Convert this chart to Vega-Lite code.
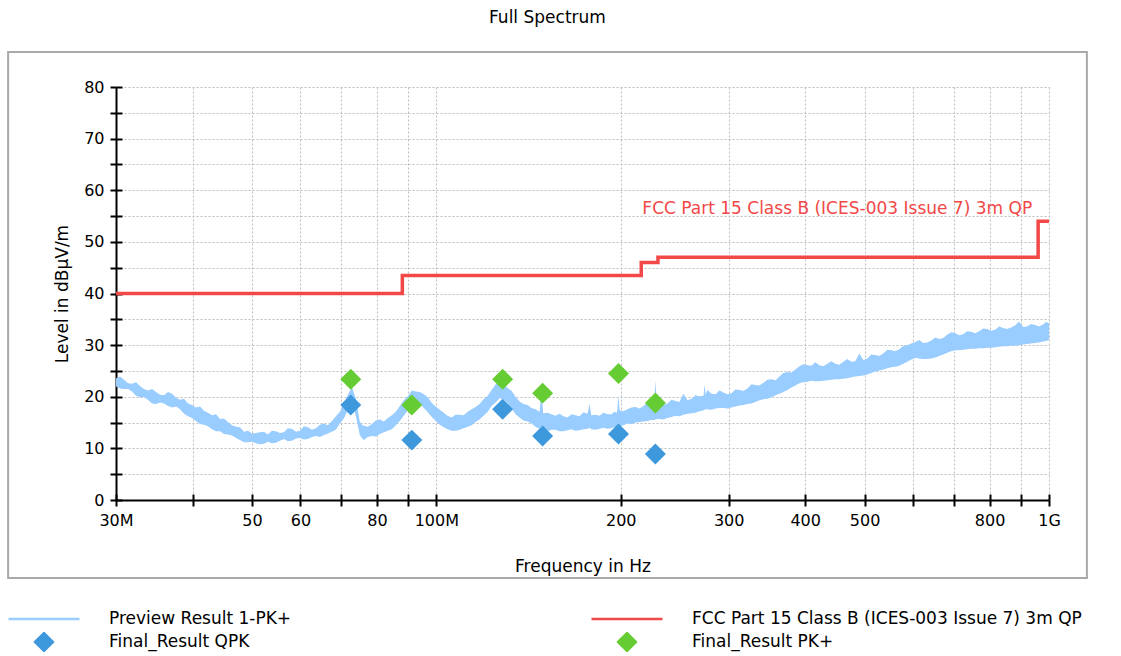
{
  "$schema": "https://vega.github.io/schema/vega-lite/v6.json",
  "width": 933,
  "height": 413,
  "autosize": {"type": "none"},
  "padding": {"left": 116, "top": 87, "right": 72, "bottom": 156},
  "background": "white",
  "title": {
    "text": "Full Spectrum",
    "anchor": "middle",
    "frame": "bounds",
    "offset": 24,
    "font": "DejaVu Sans",
    "fontSize": 17,
    "fontWeight": "normal",
    "color": "black"
  },
  "datasets": {
    "frame": [{"left": 20, "right": 1153, "top": 86.8, "bottom": -15.1}],
    "preview": [
      {"f": 30.0, "lo": 22.0, "hi": 23.6}, {"f": 30.46, "lo": 21.6, "hi": 23.9}, {"f": 30.92, "lo": 21.5, "hi": 23.3},
      {"f": 31.39, "lo": 21.5, "hi": 22.6}, {"f": 31.86, "lo": 21.0, "hi": 22.5}, {"f": 32.35, "lo": 20.2, "hi": 22.8},
      {"f": 32.84, "lo": 19.9, "hi": 22.1}, {"f": 33.33, "lo": 19.9, "hi": 21.5}, {"f": 33.83, "lo": 19.4, "hi": 21.2},
      {"f": 34.35, "lo": 18.7, "hi": 21.5}, {"f": 34.87, "lo": 18.6, "hi": 20.9}, {"f": 35.4, "lo": 18.9, "hi": 20.4},
      {"f": 35.94, "lo": 18.7, "hi": 20.3}, {"f": 36.48, "lo": 18.2, "hi": 20.9}, {"f": 37.03, "lo": 17.9, "hi": 20.6},
      {"f": 37.6, "lo": 18.1, "hi": 19.8}, {"f": 38.16, "lo": 17.6, "hi": 19.4}, {"f": 38.74, "lo": 16.7, "hi": 19.6},
      {"f": 39.33, "lo": 16.2, "hi": 18.7}, {"f": 39.92, "lo": 15.9, "hi": 18.4}, {"f": 40.52, "lo": 15.3, "hi": 17.9},
      {"f": 41.14, "lo": 14.7, "hi": 18.1}, {"f": 41.76, "lo": 14.6, "hi": 17.3}, {"f": 42.39, "lo": 14.3, "hi": 16.9},
      {"f": 43.03, "lo": 13.7, "hi": 16.4}, {"f": 43.69, "lo": 13.3, "hi": 16.6}, {"f": 44.35, "lo": 13.3, "hi": 15.7},
      {"f": 45.02, "lo": 12.8, "hi": 15.8}, {"f": 45.7, "lo": 12.7, "hi": 15.1}, {"f": 46.39, "lo": 12.5, "hi": 14.5},
      {"f": 47.09, "lo": 12.0, "hi": 14.2}, {"f": 47.8, "lo": 11.6, "hi": 14.1}, {"f": 48.53, "lo": 11.2, "hi": 13.2},
      {"f": 49.27, "lo": 11.2, "hi": 13.4}, {"f": 50.01, "lo": 11.3, "hi": 12.9}, {"f": 50.77, "lo": 11.0, "hi": 13.0},
      {"f": 51.53, "lo": 10.8, "hi": 13.1}, {"f": 52.31, "lo": 10.9, "hi": 13.2}, {"f": 53.1, "lo": 11.3, "hi": 12.7},
      {"f": 53.9, "lo": 11.0, "hi": 13.4}, {"f": 54.72, "lo": 11.1, "hi": 13.3}, {"f": 55.55, "lo": 11.5, "hi": 13.0},
      {"f": 56.39, "lo": 11.8, "hi": 13.1}, {"f": 57.24, "lo": 11.4, "hi": 13.9}, {"f": 58.11, "lo": 11.5, "hi": 13.8},
      {"f": 59.0, "lo": 11.9, "hi": 13.2}, {"f": 59.89, "lo": 12.0, "hi": 13.4}, {"f": 60.79, "lo": 11.7, "hi": 14.3},
      {"f": 61.71, "lo": 11.8, "hi": 14.1}, {"f": 62.65, "lo": 12.2, "hi": 13.6}, {"f": 63.6, "lo": 12.4, "hi": 13.9},
      {"f": 64.56, "lo": 12.2, "hi": 14.6}, {"f": 65.54, "lo": 12.6, "hi": 14.8}, {"f": 66.53, "lo": 12.9, "hi": 14.5},
      {"f": 67.53, "lo": 13.2, "hi": 15.3}, {"f": 68.55, "lo": 13.6, "hi": 16.2}, {"f": 69.59, "lo": 14.8, "hi": 17.1},
      {"f": 70.65, "lo": 15.8, "hi": 18.6}, {"f": 71.72, "lo": 17.5, "hi": 20.4}, {"f": 72.8, "lo": 19.3, "hi": 21.9},
      {"f": 73.9, "lo": 16.2, "hi": 19.6}, {"f": 75.0, "lo": 12.6, "hi": 15.2}, {"f": 75.57, "lo": 12.0, "hi": 14.6},
      {"f": 76.15, "lo": 11.6, "hi": 14.4}, {"f": 77.3, "lo": 12.2, "hi": 14.2}, {"f": 78.48, "lo": 12.4, "hi": 14.7},
      {"f": 79.67, "lo": 12.3, "hi": 15.4}, {"f": 80.87, "lo": 12.8, "hi": 15.6}, {"f": 82.1, "lo": 13.1, "hi": 15.2},
      {"f": 83.33, "lo": 13.4, "hi": 15.9}, {"f": 84.6, "lo": 13.7, "hi": 16.4}, {"f": 85.88, "lo": 14.5, "hi": 17.1},
      {"f": 87.17, "lo": 15.3, "hi": 18.2}, {"f": 88.49, "lo": 16.3, "hi": 19.3}, {"f": 89.83, "lo": 17.4, "hi": 20.1},
      {"f": 91.19, "lo": 18.4, "hi": 21.2}, {"f": 92.58, "lo": 18.9, "hi": 21.0}, {"f": 93.98, "lo": 18.7, "hi": 20.9},
      {"f": 95.4, "lo": 17.8, "hi": 20.5}, {"f": 96.84, "lo": 17.0, "hi": 19.9}, {"f": 98.3, "lo": 16.1, "hi": 18.8},
      {"f": 99.74, "lo": 15.3, "hi": 18.1}, {"f": 101.3, "lo": 14.6, "hi": 17.5}, {"f": 102.8, "lo": 14.1, "hi": 16.9},
      {"f": 104.3, "lo": 13.7, "hi": 16.3}, {"f": 105.9, "lo": 13.4, "hi": 16.0}, {"f": 107.5, "lo": 13.4, "hi": 16.5},
      {"f": 109.1, "lo": 13.6, "hi": 16.5}, {"f": 110.8, "lo": 13.9, "hi": 16.4}, {"f": 112.5, "lo": 14.2, "hi": 17.1},
      {"f": 114.2, "lo": 14.5, "hi": 17.6}, {"f": 115.9, "lo": 15.1, "hi": 18.0}, {"f": 117.6, "lo": 15.6, "hi": 18.6},
      {"f": 119.4, "lo": 16.3, "hi": 19.5}, {"f": 121.3, "lo": 17.1, "hi": 20.2}, {"f": 123.1, "lo": 18.2, "hi": 21.3},
      {"f": 125.0, "lo": 18.9, "hi": 22.4}, {"f": 126.8, "lo": 19.7, "hi": 23.0}, {"f": 128.7, "lo": 19.5, "hi": 22.5},
      {"f": 130.7, "lo": 18.8, "hi": 21.7}, {"f": 132.7, "lo": 17.7, "hi": 21.1}, {"f": 134.7, "lo": 16.6, "hi": 20.0},
      {"f": 136.7, "lo": 16.0, "hi": 19.1}, {"f": 138.8, "lo": 15.4, "hi": 18.6}, {"f": 140.9, "lo": 15.2, "hi": 18.4},
      {"f": 143.0, "lo": 14.8, "hi": 17.8}, {"f": 145.2, "lo": 14.2, "hi": 17.6}, {"f": 147.4, "lo": 13.8, "hi": 17.1},
      {"f": 148.5, "lo": 14.3, "hi": 21.2}, {"f": 149.4, "lo": 13.5, "hi": 16.8}, {"f": 151.9, "lo": 13.3, "hi": 16.9},
      {"f": 154.2, "lo": 13.6, "hi": 16.6}, {"f": 156.5, "lo": 13.6, "hi": 16.3}, {"f": 158.9, "lo": 13.3, "hi": 16.7},
      {"f": 161.3, "lo": 13.3, "hi": 16.2}, {"f": 163.7, "lo": 13.5, "hi": 16.0}, {"f": 166.2, "lo": 13.7, "hi": 16.6},
      {"f": 168.7, "lo": 13.4, "hi": 16.4}, {"f": 171.3, "lo": 13.5, "hi": 16.2}, {"f": 173.9, "lo": 13.7, "hi": 17.0},
      {"f": 176.5, "lo": 13.8, "hi": 16.7}, {"f": 177.9, "lo": 14.0, "hi": 18.6}, {"f": 179.0, "lo": 13.7, "hi": 16.4},
      {"f": 181.9, "lo": 13.6, "hi": 16.5}, {"f": 184.6, "lo": 13.8, "hi": 16.3}, {"f": 187.4, "lo": 14.0, "hi": 16.9},
      {"f": 190.3, "lo": 13.8, "hi": 16.6}, {"f": 193.2, "lo": 13.9, "hi": 16.6}, {"f": 195.2, "lo": 14.1, "hi": 17.1},
      {"f": 197.2, "lo": 14.0, "hi": 16.9}, {"f": 198.3, "lo": 14.6, "hi": 20.2}, {"f": 199.1, "lo": 14.3, "hi": 17.4},
      {"f": 202.1, "lo": 14.5, "hi": 17.2}, {"f": 205.1, "lo": 14.8, "hi": 17.6}, {"f": 208.2, "lo": 14.7, "hi": 17.9},
      {"f": 211.4, "lo": 15.0, "hi": 18.0}, {"f": 214.6, "lo": 15.1, "hi": 17.7}, {"f": 217.8, "lo": 15.2, "hi": 18.2},
      {"f": 221.1, "lo": 15.3, "hi": 18.9}, {"f": 224.5, "lo": 15.5, "hi": 18.6}, {"f": 226.7, "lo": 15.5, "hi": 18.4},
      {"f": 227.8, "lo": 15.6, "hi": 23.1}, {"f": 229.0, "lo": 15.7, "hi": 18.6}, {"f": 231.3, "lo": 15.7, "hi": 18.8},
      {"f": 234.8, "lo": 15.6, "hi": 18.4}, {"f": 238.4, "lo": 15.9, "hi": 18.7}, {"f": 242.0, "lo": 16.1, "hi": 19.4},
      {"f": 245.6, "lo": 16.3, "hi": 19.2}, {"f": 249.3, "lo": 16.2, "hi": 19.0}, {"f": 253.1, "lo": 16.5, "hi": 20.6},
      {"f": 257.0, "lo": 16.7, "hi": 19.3}, {"f": 260.9, "lo": 16.8, "hi": 19.6}, {"f": 264.8, "lo": 16.9, "hi": 20.3},
      {"f": 268.8, "lo": 17.2, "hi": 20.1}, {"f": 273.0, "lo": 17.4, "hi": 20.2}, {"f": 274.0, "lo": 17.5, "hi": 22.4},
      {"f": 275.1, "lo": 17.6, "hi": 20.4}, {"f": 277.0, "lo": 17.6, "hi": 21.3}, {"f": 281.2, "lo": 17.5, "hi": 20.6},
      {"f": 285.5, "lo": 17.7, "hi": 20.5}, {"f": 289.8, "lo": 17.8, "hi": 21.2}, {"f": 294.2, "lo": 17.8, "hi": 20.8},
      {"f": 298.7, "lo": 17.7, "hi": 20.5}, {"f": 303.2, "lo": 17.9, "hi": 20.7}, {"f": 307.8, "lo": 18.1, "hi": 21.4},
      {"f": 312.4, "lo": 18.3, "hi": 21.3}, {"f": 317.1, "lo": 18.4, "hi": 21.1}, {"f": 321.9, "lo": 18.6, "hi": 21.6},
      {"f": 326.8, "lo": 18.7, "hi": 22.4}, {"f": 331.8, "lo": 19.0, "hi": 22.3}, {"f": 336.8, "lo": 19.3, "hi": 22.2},
      {"f": 341.9, "lo": 19.5, "hi": 22.7}, {"f": 347.1, "lo": 19.6, "hi": 23.3}, {"f": 352.3, "lo": 19.9, "hi": 23.4},
      {"f": 357.7, "lo": 20.3, "hi": 23.2}, {"f": 363.1, "lo": 20.6, "hi": 23.9}, {"f": 368.6, "lo": 20.9, "hi": 24.6},
      {"f": 374.1, "lo": 21.3, "hi": 24.8}, {"f": 379.8, "lo": 21.8, "hi": 24.7}, {"f": 385.5, "lo": 22.2, "hi": 25.3},
      {"f": 391.4, "lo": 22.6, "hi": 25.9}, {"f": 397.3, "lo": 22.8, "hi": 26.3}, {"f": 403.3, "lo": 22.9, "hi": 26.1},
      {"f": 409.4, "lo": 23.1, "hi": 26.0}, {"f": 415.6, "lo": 23.0, "hi": 26.7}, {"f": 421.9, "lo": 23.0, "hi": 26.1},
      {"f": 428.3, "lo": 23.1, "hi": 25.9}, {"f": 434.7, "lo": 23.2, "hi": 26.4}, {"f": 441.3, "lo": 23.3, "hi": 26.9},
      {"f": 448.0, "lo": 23.4, "hi": 26.4}, {"f": 454.8, "lo": 23.4, "hi": 26.2}, {"f": 461.7, "lo": 23.5, "hi": 26.8},
      {"f": 468.7, "lo": 23.6, "hi": 27.3}, {"f": 475.7, "lo": 23.8, "hi": 26.8}, {"f": 482.9, "lo": 23.9, "hi": 26.9},
      {"f": 490.2, "lo": 24.0, "hi": 28.4}, {"f": 497.7, "lo": 24.1, "hi": 27.1}, {"f": 505.2, "lo": 24.3, "hi": 27.4},
      {"f": 512.9, "lo": 24.6, "hi": 28.2}, {"f": 520.6, "lo": 24.9, "hi": 28.1}, {"f": 528.5, "lo": 25.1, "hi": 27.9},
      {"f": 536.4, "lo": 25.3, "hi": 28.4}, {"f": 544.6, "lo": 25.5, "hi": 29.1}, {"f": 552.8, "lo": 25.7, "hi": 29.0},
      {"f": 561.2, "lo": 25.8, "hi": 28.8}, {"f": 569.7, "lo": 26.0, "hi": 29.2}, {"f": 578.3, "lo": 26.4, "hi": 29.9},
      {"f": 587.0, "lo": 26.8, "hi": 30.0}, {"f": 595.9, "lo": 27.2, "hi": 30.3}, {"f": 604.9, "lo": 27.5, "hi": 30.6},
      {"f": 614.1, "lo": 27.4, "hi": 31.0}, {"f": 623.4, "lo": 27.3, "hi": 30.4}, {"f": 632.8, "lo": 27.3, "hi": 30.5},
      {"f": 642.4, "lo": 27.4, "hi": 30.9}, {"f": 652.2, "lo": 27.6, "hi": 31.5}, {"f": 662.0, "lo": 27.9, "hi": 31.2},
      {"f": 672.0, "lo": 28.2, "hi": 31.4}, {"f": 682.1, "lo": 28.5, "hi": 32.0}, {"f": 692.4, "lo": 28.8, "hi": 32.5},
      {"f": 702.9, "lo": 29.0, "hi": 32.3}, {"f": 713.6, "lo": 29.0, "hi": 31.9}, {"f": 724.4, "lo": 29.1, "hi": 32.1},
      {"f": 735.4, "lo": 29.2, "hi": 32.7}, {"f": 746.5, "lo": 29.3, "hi": 32.6}, {"f": 757.8, "lo": 29.3, "hi": 32.3},
      {"f": 769.2, "lo": 29.4, "hi": 32.7}, {"f": 780.9, "lo": 29.4, "hi": 33.2}, {"f": 792.7, "lo": 29.5, "hi": 33.1},
      {"f": 804.7, "lo": 29.5, "hi": 32.8}, {"f": 816.9, "lo": 29.6, "hi": 33.0}, {"f": 829.1, "lo": 29.7, "hi": 33.6},
      {"f": 841.4, "lo": 29.8, "hi": 33.3}, {"f": 854.1, "lo": 29.8, "hi": 33.1}, {"f": 867.0, "lo": 29.9, "hi": 33.4},
      {"f": 880.1, "lo": 29.9, "hi": 33.8}, {"f": 893.5, "lo": 30.0, "hi": 34.6}, {"f": 907.0, "lo": 30.1, "hi": 33.5},
      {"f": 920.8, "lo": 30.2, "hi": 33.6}, {"f": 934.7, "lo": 30.3, "hi": 34.1}, {"f": 948.8, "lo": 30.4, "hi": 33.9},
      {"f": 963.1, "lo": 30.5, "hi": 33.6}, {"f": 977.7, "lo": 30.7, "hi": 34.0}, {"f": 988.8, "lo": 30.8, "hi": 34.5},
      {"f": 1000, "lo": 31.0, "hi": 34.3}
    ],
    "limit": [
      {"f": 30, "level": 40},
      {"f": 88, "level": 43.5},
      {"f": 216, "level": 46},
      {"f": 230, "level": 47},
      {"f": 960, "level": 54},
      {"f": 1000, "level": 54}
    ],
    "limitLabel": [
      {"f": 960, "level": 54, "label": "FCC Part 15 Class B (ICES-003 Issue 7) 3m QP"}
    ],
    "qpk": [
      {"f": 72.5, "level": 18.4}, {"f": 91.2, "level": 11.6}, {"f": 128.3, "level": 17.6},
      {"f": 149.1, "level": 12.4}, {"f": 198.3, "level": 12.8}, {"f": 227.8, "level": 8.9}
    ],
    "pk": [
      {"f": 72.5, "level": 23.4}, {"f": 91.2, "level": 18.4}, {"f": 128.3, "level": 23.4},
      {"f": 149.1, "level": 20.7}, {"f": 198.3, "level": 24.5}, {"f": 227.8, "level": 18.8}
    ]
  },
  "layer": [
    {
      "data": {"name": "frame"},
      "mark": {"type": "rect", "filled": false, "color": "#a8a8a8", "strokeWidth": 2, "clip": false},
      "encoding": {
        "x": {"field": "left", "type": "quantitative", "scale": {"type": "log", "domain": [30, 1000], "nice": false}, "axis": null},
        "x2": {"field": "right"},
        "y": {"field": "top", "type": "quantitative", "scale": {"domain": [0, 80], "nice": false}, "axis": null},
        "y2": {"field": "bottom"}
      }
    },
    {
      "data": {"name": "preview"},
      "mark": {"type": "area", "opacity": 1},
      "encoding": {
        "x": {
          "field": "f", "type": "quantitative",
          "scale": {"type": "log", "domain": [30, 1000], "nice": false},
          "axis": {
            "orient": "bottom",
            "values": [30, 40, 50, 60, 70, 80, 90, 100, 200, 300, 400, 500, 600, 700, 800, 900, 1000],
            "labelExpr": "datum.value == 30 ? '30M' : datum.value == 100 ? '100M' : datum.value == 1000 ? '1G' : indexof([50, 60, 80, 200, 300, 400, 500, 800], datum.value) >= 0 ? '' + datum.value : ''",
            "labelOverlap": false,
            "labelFlush": false,
            "labelPadding": 6,
            "tickSize": 6,
            "grid": true,
            "title": "Frequency in Hz",
            "titlePadding": 30
          }
        },
        "y": {
          "field": "lo", "type": "quantitative",
          "scale": {"domain": [0, 80], "nice": false},
          "axis": {
            "orient": "left",
            "values": [0, 5, 10, 15, 20, 25, 30, 35, 40, 45, 50, 55, 60, 65, 70, 75, 80],
            "labelExpr": "datum.value % 10 === 0 ? datum.label : ''",
            "labelPadding": 6,
            "tickSize": 6,
            "grid": true,
            "title": "Level in dBµV/m",
            "titlePadding": 12
          }
        },
        "y2": {"field": "hi"},
        "color": {
          "datum": "Preview Result 1-PK+",
          "scale": {
            "domain": ["Preview Result 1-PK+", "FCC Part 15 Class B (ICES-003 Issue 7) 3m QP", "Final_Result QPK", "Final_Result PK+"],
            "range": ["#99ccff", "#f24848", "#3d98dc", "#66cc33"]
          },
          "legend": {
            "orient": "none",
            "legendX": -109,
            "legendY": 522,
            "direction": "horizontal",
            "title": null,
            "columns": 2,
            "gridAlign": "each",
            "columnPadding": 298,
            "rowPadding": 3,
            "padding": 0,
            "clipHeight": 20,
            "symbolSize": 5041,
            "symbolStrokeWidth": 2.5,
            "symbolOffset": 0,
            "symbolType": {"expr": "indexof(['Final_Result QPK', 'Final_Result PK+'], datum.value) >= 0 ? 'M-0.25,0L0,-0.25L0.25,0L0,0.25Z' : 'stroke'"},
            "symbolFillColor": {"expr": "datum.value === 'Final_Result QPK' ? '#3d98dc' : datum.value === 'Final_Result PK+' ? '#66cc33' : 'transparent'"},
            "symbolStrokeColor": {"expr": "datum.value === 'Final_Result QPK' ? '#3d98dc' : datum.value === 'Final_Result PK+' ? '#66cc33' : datum.value === 'Preview Result 1-PK+' ? '#99ccff' : '#f24848'"},
            "symbolOpacity": 1,
            "labelOffset": 28,
            "labelFont": "DejaVu Sans",
            "labelFontSize": 17,
            "labelColor": "black",
            "labelLimit": 600
          }
        }
      }
    },
    {
      "data": {"name": "limit"},
      "mark": {"type": "line", "interpolate": "step-after", "strokeWidth": 3.5},
      "encoding": {
        "x": {
          "field": "f", "type": "quantitative",
          "axis": {
            "orient": "bottom",
            "values": [30, 40, 50, 60, 70, 80, 90, 100, 200, 300, 400, 500, 600, 700, 800, 900, 1000],
            "labels": false, "domain": false, "grid": false, "tickSize": -6, "title": null
          }
        },
        "y": {
          "field": "level", "type": "quantitative",
          "axis": {
            "orient": "left",
            "values": [0, 5, 10, 15, 20, 25, 30, 35, 40, 45, 50, 55, 60, 65, 70, 75, 80],
            "labels": false, "domain": false, "grid": false, "tickSize": -6, "title": null
          }
        },
        "color": {"datum": "FCC Part 15 Class B (ICES-003 Issue 7) 3m QP"}
      }
    },
    {
      "data": {"name": "limitLabel"},
      "mark": {"type": "text", "align": "right", "baseline": "middle", "dx": -6, "dy": -12, "font": "DejaVu Sans", "fontSize": 17, "color": "#f24848"},
      "encoding": {
        "x": {"field": "f", "type": "quantitative", "axis": null},
        "y": {"field": "level", "type": "quantitative", "axis": null},
        "text": {"field": "label"}
      }
    },
    {
      "data": {"name": "qpk"},
      "mark": {"type": "point", "shape": "diamond", "filled": true, "size": 440, "opacity": 1, "strokeWidth": 0},
      "encoding": {
        "x": {"field": "f", "type": "quantitative", "axis": null},
        "y": {"field": "level", "type": "quantitative", "axis": null},
        "color": {"datum": "Final_Result QPK"}
      }
    },
    {
      "data": {"name": "pk"},
      "mark": {"type": "point", "shape": "diamond", "filled": true, "size": 440, "opacity": 1, "strokeWidth": 0},
      "encoding": {
        "x": {"field": "f", "type": "quantitative", "axis": null},
        "y": {"field": "level", "type": "quantitative", "axis": null},
        "color": {"datum": "Final_Result PK+"}
      }
    }
  ],
  "resolve": {"axis": {"x": "independent", "y": "independent"}},
  "config": {
    "view": {"stroke": null},
    "font": "DejaVu Sans",
    "axis": {
      "labelFont": "DejaVu Sans",
      "labelFontSize": 16,
      "labelColor": "black",
      "titleFont": "DejaVu Sans",
      "titleFontSize": 17,
      "titleFontWeight": "normal",
      "titleColor": "black",
      "domainColor": "black",
      "domainWidth": 2,
      "tickColor": "black",
      "tickWidth": 2,
      "gridColor": "#bdbdbd",
      "gridDash": [2, 2],
      "gridWidth": 1
    }
  }
}
